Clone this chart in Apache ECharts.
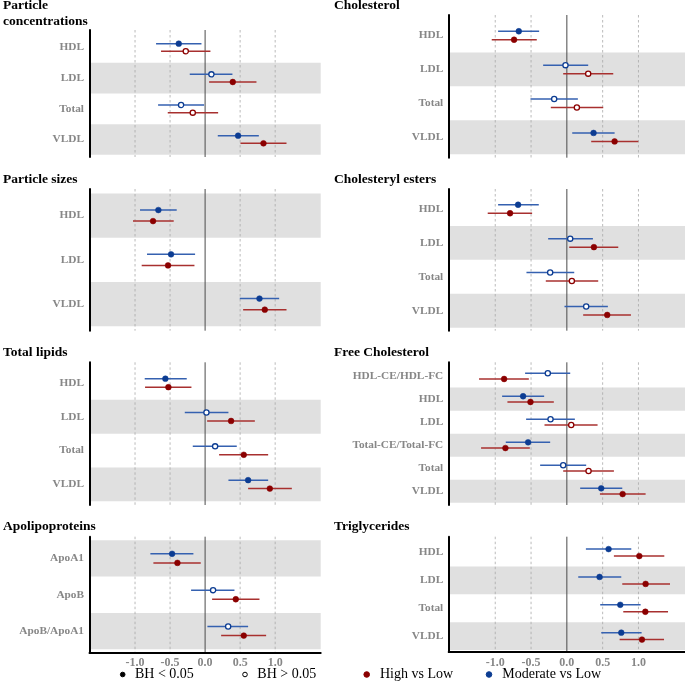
<!DOCTYPE html>
<html><head><meta charset="utf-8">
<script src="https://cdn.jsdelivr.net/npm/echarts@6/dist/echarts.min.js"></script>
<style>html,body{margin:0;padding:0;background:#fff}#c{width:685px;height:683px}</style>
</head><body><div id="c"></div><script>
// ---------------- DATA ----------------
const xTicks = [-1.0, -0.5, 0.0, 0.5, 1.0];
const xTickLabels = ['-1.0', '-0.5', '0.0', '0.5', '1.0'];
const legendLabels = ['BH < 0.05', 'BH > 0.05', 'High vs Low', 'Moderate vs Low'];

// each row: [estimate, lower CI, upper CI, BH<0.05 ? 1 : 0]
const pcCats = ['HDL', 'LDL', 'Total', 'VLDL'];
const pcModerate = [[-0.376, -0.700, -0.052, 1], [0.090, -0.219, 0.390, 0], [-0.343, -0.671, -0.014, 0], [0.471, 0.181, 0.767, 1]];
const pcHigh     = [[-0.276, -0.629, 0.076, 0], [0.395, 0.057, 0.733, 1], [-0.176, -0.533, 0.186, 0], [0.833, 0.505, 1.162, 1]];

const psCats = ['HDL', 'LDL', 'VLDL'];
const psModerate = [[-0.667, -0.929, -0.405, 1], [-0.486, -0.829, -0.143, 1], [0.776, 0.495, 1.057, 1]];
const psHigh     = [[-0.743, -1.029, -0.448, 1], [-0.529, -0.905, -0.152, 1], [0.852, 0.543, 1.162, 1]];

const tlCats = ['HDL', 'LDL', 'Total', 'VLDL'];
const tlModerate = [[-0.567, -0.862, -0.262, 1], [0.019, -0.290, 0.333, 0], [0.143, -0.176, 0.452, 0], [0.614, 0.333, 0.900, 1]];
const tlHigh     = [[-0.524, -0.857, -0.195, 1], [0.371, 0.029, 0.710, 1], [0.552, 0.200, 0.900, 1], [0.924, 0.614, 1.238, 1]];

const apoCats = ['ApoA1', 'ApoB', 'ApoB/ApoA1'];
const apoModerate = [[-0.471, -0.781, -0.167, 1], [0.114, -0.200, 0.419, 0], [0.329, 0.033, 0.614, 0]];
const apoHigh     = [[-0.395, -0.738, -0.062, 1], [0.438, 0.100, 0.776, 1], [0.552, 0.229, 0.871, 1]];

const chCats = ['HDL', 'LDL', 'Total', 'VLDL'];
const chModerate = [[-0.671, -0.960, -0.387, 1], [-0.019, -0.331, 0.298, 0], [-0.177, -0.508, 0.154, 0], [0.373, 0.075, 0.667, 1]];
const chHigh     = [[-0.737, -1.049, -0.420, 1], [0.298, -0.051, 0.648, 0], [0.140, -0.224, 0.508, 0], [0.667, 0.340, 0.998, 1]];

const ceCats = ['HDL', 'LDL', 'Total', 'VLDL'];
const ceModerate = [[-0.681, -0.960, -0.392, 1], [0.047, -0.261, 0.364, 0], [-0.233, -0.564, 0.103, 0], [0.270, -0.033, 0.573, 0]];
const ceHigh     = [[-0.793, -1.105, -0.485, 1], [0.378, 0.033, 0.718, 1], [0.070, -0.294, 0.438, 0], [0.564, 0.228, 0.895, 1]];

const fcCats = ['HDL-CE/HDL-FC', 'HDL', 'LDL', 'Total-CE/Total-FC', 'Total', 'VLDL'];
const fcModerate = [[-0.266, -0.583, 0.047, 0], [-0.611, -0.904, -0.317, 1], [-0.228, -0.569, 0.112, 0], [-0.541, -0.853, -0.233, 1], [-0.051, -0.373, 0.270, 0], [0.480, 0.186, 0.774, 1]];
const fcHigh     = [[-0.876, -1.226, -0.531, 1], [-0.508, -0.830, -0.182, 1], [0.061, -0.312, 0.429, 0], [-0.858, -1.198, -0.517, 1], [0.303, -0.051, 0.657, 0], [0.779, 0.462, 1.100, 1]];

const tgCats = ['HDL', 'LDL', 'Total', 'VLDL'];
const tgModerate = [[0.583, 0.266, 0.900, 1], [0.457, 0.159, 0.760, 1], [0.746, 0.466, 1.030, 1], [0.760, 0.480, 1.044, 1]];
const tgHigh     = [[1.012, 0.657, 1.361, 1], [1.100, 0.774, 1.441, 1], [1.096, 0.788, 1.413, 1], [1.049, 0.737, 1.357, 1]];

// ---------------- LAYOUT / STYLE ----------------
const FONT = 'Liberation Serif';
const COL = {
  left:  { left: 89.5, width: 231.2, titleX: 3 },
  right: { left: 448.7, width: 236.3, titleX: 334 }
};
const panels = [
  { title: 'Particle\nconcentrations', cats: pcCats, mod: pcModerate, high: pcHigh, col: 'left', top: 30, height: 127, pad: 0.07, titleY: 13.6, bottom: false },
  { title: 'Particle sizes', cats: psCats, mod: psModerate, high: psHigh, col: 'left', top: 189, height: 141.7, pad: 0.1, titleY: 179.5, bottom: false },
  { title: 'Total lipids', cats: tlCats, mod: tlModerate, high: tlHigh, col: 'left', top: 362.3, height: 142.7, pad: 0.11, titleY: 353, bottom: false },
  { title: 'Apolipoproteins', cats: apoCats, mod: apoModerate, high: apoHigh, col: 'left', top: 536.7, height: 116, pad: 0.095, titleY: 526.3, bottom: true },
  { title: 'Cholesterol', cats: chCats, mod: chModerate, high: chHigh, col: 'right', top: 15, height: 142.7, pad: 0.105, titleY: 5.6, bottom: false },
  { title: 'Cholesteryl esters', cats: ceCats, mod: ceModerate, high: ceHigh, col: 'right', top: 189, height: 141.7, pad: 0.09, titleY: 179.5, bottom: false },
  { title: 'Free Cholesterol', cats: fcCats, mod: fcModerate, high: fcHigh, col: 'right', top: 362.3, height: 142.7, pad: 0.1, titleY: 353, bottom: false },
  { title: 'Triglycerides', cats: tgCats, mod: tgModerate, high: tgHigh, col: 'right', top: 536.7, height: 115.3, pad: 0.07, titleY: 526.3, bottom: true }
];
const XMIN = -1.65, XMAX = 1.65;
const BLUE = '#0c3c92', BLUE_LINE = '#3561b0';
const RED = '#8b0000', RED_LINE = '#a8302f';
const BAND = '#e0e0e0';
const LABEL_GRAY = '#878787';
const DODGE = 0.125;

const grid = [], xAxis = [], yAxis = [], series = [], graphic = [];

panels.forEach((p, k) => {
  const n = p.cats.length;
  const c = COL[p.col];
  const ymin = 0.5 - p.pad, ymax = n + 0.5 + p.pad;
  grid.push({ left: c.left, top: p.top, width: c.width, height: p.height, containLabel: false });
  xAxis.push({
    type: 'value', gridIndex: k, min: XMIN, max: XMAX, z: 10,
    axisLine: { show: p.bottom, onZero: false, lineStyle: { color: '#000', width: 2 } },
    axisTick: { show: false }, splitLine: { show: false },
    axisLabel: {
      show: p.bottom, customValues: xTicks, margin: 4.5,
      formatter: v => xTickLabels[xTicks.findIndex(t => Math.abs(t - v) < 1e-9)] ?? '',
      color: LABEL_GRAY, fontFamily: FONT, fontWeight: 'bold', fontSize: 12
    }
  });
  const rows = p.cats.map((_, i) => i + 1);
  yAxis.push({
    type: 'value', gridIndex: k, min: ymin, max: ymax, inverse: true, z: 10,
    axisLine: { show: true, onZero: false, lineStyle: { color: '#000', width: 2 } },
    axisTick: { show: false }, splitLine: { show: false },
    axisLabel: {
      show: true, customValues: rows, margin: 5.5,
      formatter: v => p.cats[Math.round(v) - 1] ?? '',
      color: LABEL_GRAY, fontFamily: FONT, fontWeight: 'bold', fontSize: 11.3
    }
  });
  // shaded bands: odd positions counted from the bottom
  const bandRows = rows.filter(r => (n - r) % 2 === 0);
  series.push({
    type: 'custom', xAxisIndex: k, yAxisIndex: k, z: 1, silent: true,
    data: bandRows.map(r => [0, r]),
    renderItem: (params, api) => {
      const r = api.value(1);
      const a = api.coord([XMIN, r - 0.5]), b = api.coord([XMAX, r + 0.5]);
      return { type: 'rect', shape: { x: a[0], y: a[1], width: b[0] - a[0], height: b[1] - a[1] }, style: { fill: BAND } };
    }
  });
  // vertical reference lines
  series.push({
    type: 'custom', xAxisIndex: k, yAxisIndex: k, z: 2, silent: true,
    data: xTicks.map(t => [t, 1]),
    renderItem: (params, api) => {
      const v = api.value(0);
      const a = api.coord([v, ymin]), b = api.coord([v, ymax]);
      const zero = Math.abs(v) < 1e-9;
      return {
        type: 'line', shape: { x1: a[0], y1: a[1], x2: b[0], y2: b[1] },
        style: zero ? { stroke: '#4a4a4a', lineWidth: 1 } : { stroke: '#a8a8a8', lineWidth: 0.8, lineDash: [2.5, 2.5] }
      };
    }
  });
  // estimates with CI
  const mkPts = (arr, dir, col, lineCol, name) => ({
    type: 'custom', name, xAxisIndex: k, yAxisIndex: k, z: 3,
    data: arr.map((d, i) => [d[0], i + 1, d[1], d[2], d[3]]),
    encode: { x: [0, 2, 3], y: 1 },
    renderItem: (params, api) => {
      const est = api.value(0), r = api.value(1), lo = api.value(2), hi = api.value(3), sig = api.value(4);
      const h = api.size([0, 1])[1];
      const pc = api.coord([est, r]);
      const y = pc[1] + dir * h * DODGE;
      const a = api.coord([lo, r]), b = api.coord([hi, r]);
      return {
        type: 'group', children: [
          { type: 'line', shape: { x1: a[0], y1: y, x2: b[0], y2: y }, style: { stroke: lineCol, lineWidth: 1.5 } },
          { type: 'circle', shape: { cx: pc[0], cy: y, r: sig ? 2.9 : 2.6 },
            style: sig ? { fill: col, stroke: col, lineWidth: 0.5 } : { fill: '#fff', stroke: col, lineWidth: 1.3 } }
        ]
      };
    }
  });
  series.push(mkPts(p.mod, -1, BLUE, BLUE_LINE, 'Moderate vs Low'));
  series.push(mkPts(p.high, 1, RED, RED_LINE, 'High vs Low'));
  // panel title
  graphic.push({
    type: 'text', x: c.titleX, y: p.titleY, z: 20,
    style: { text: p.title, font: `bold 13.5px "${FONT}"`, fill: '#000', lineHeight: 15.3, verticalAlign: 'middle', textVerticalAlign: 'middle' }
  });
});

// legend (bottom)
const legendY = 674.5;
const legendItems = [
  { x: 122.7, r: 2.3, fill: '#000', stroke: '#000', tx: 135, text: legendLabels[0] },
  { x: 245, r: 2.3, fill: '#fff', stroke: '#000', tx: 257.3, text: legendLabels[1] },
  { x: 366.7, r: 2.8, fill: RED, stroke: RED, tx: 380, text: legendLabels[2] },
  { x: 489, r: 2.8, fill: BLUE, stroke: BLUE, tx: 502.3, text: legendLabels[3] }
];
legendItems.forEach(it => {
  graphic.push({ type: 'circle', shape: { cx: it.x, cy: legendY, r: it.r }, style: { fill: it.fill, stroke: it.stroke, lineWidth: 1 }, z: 20 });
  graphic.push({ type: 'text', x: it.tx, y: legendY, z: 20,
    style: { text: it.text, font: `14px "${FONT}"`, fill: '#000', textVerticalAlign: 'middle', verticalAlign: 'middle' } });
});

const chart = echarts.init(document.getElementById('c'), null, { renderer: 'canvas' });
chart.setOption({ animation: false, backgroundColor: '#fff', grid, xAxis, yAxis, series, graphic });
</script></body></html>
